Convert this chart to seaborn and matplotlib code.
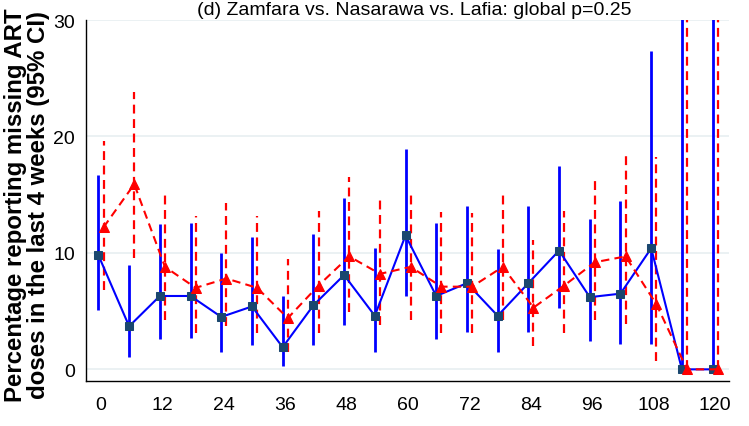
import numpy as np
import pandas as pd
import seaborn as sns
import matplotlib
matplotlib.use('Agg')
import matplotlib.pyplot as plt

# months since start
months = [0, 6, 12, 18, 24, 30, 36, 42, 48, 54, 60, 66, 72, 78, 84, 90, 96, 102, 108, 114, 120]

# blue series (solid, squares)
blue_est = [9.8, 3.7, 6.3, 6.3, 4.5, 5.4, 1.9, 5.5, 8.1, 4.6, 11.5, 6.3, 7.4, 4.6, 7.4, 10.2, 6.2, 6.5, 10.4, 0, 0]
blue_lo = [5.1, 1.1, 2.6, 2.7, 1.5, 2.1, 0.3, 2.1, 3.8, 1.5, 6.3, 2.6, 3.2, 1.5, 3.2, 5.3, 2.4, 2.2, 2.2, 0, 0]
blue_hi = [16.7, 9.0, 12.5, 12.6, 10.0, 11.4, 6.3, 11.6, 14.7, 10.4, 18.9, 12.6, 14.0, 10.3, 14.0, 17.5, 12.9, 14.5, 27.3, 60, 60]

# red series (dashed, triangles)
red_est = [12.2, 15.9, 8.8, 7.0, 7.8, 7.0, 4.4, 7.2, 9.7, 8.2, 8.8, 7.1, 7.1, 8.8, 5.3, 7.2, 9.2, 9.7, 5.6, 0, 0]
red_lo = [6.8, 9.6, 4.2, 3.1, 3.7, 3.1, 1.5, 3.1, 4.9, 3.8, 4.2, 3.1, 3.1, 4.2, 2.0, 3.1, 4.2, 3.9, 0.7, 0, 0]
red_hi = [19.6, 23.8, 15.1, 13.2, 14.3, 13.2, 9.5, 13.6, 16.5, 14.7, 15.1, 13.5, 13.4, 15.1, 11.1, 13.6, 16.5, 18.7, 18.2, 60, 60]

title = '(d) Zamfara vs. Nasarawa vs. Lafia: global p=0.25'
ylab = 'Percentage reporting missing ART\ndoses in the last 4 weeks (95% CI)'

sns.set_style('white')
plt.rcParams['font.family'] = ['Liberation Sans', 'DejaVu Sans']
plt.rcParams['text.color'] = 'black'
plt.rcParams['xtick.color'] = 'black'
plt.rcParams['ytick.color'] = 'black'
plt.rcParams['axes.labelcolor'] = 'black'

m = np.array(months, dtype=float)
blue = pd.DataFrame({'x': m - 0.5, 'est': blue_est, 'lo': blue_lo, 'hi': blue_hi})
red = pd.DataFrame({'x': m + 0.5, 'est': red_est, 'lo': red_lo, 'hi': red_hi})

fig = plt.figure(figsize=(7.49, 4.27), dpi=100)
ax = fig.add_axes([0.1148, 0.1054, 0.8585, 0.8454])

# grid lines
for g in [0, 10, 20, 30]:
    ax.axhline(g, color='#e8eff1', lw=1.2, zorder=0)

# confidence intervals
ax.vlines(blue['x'], blue['lo'], blue['hi'], color='#0000ff', lw=2, zorder=2)
ax.vlines(red['x'], red['lo'], red['hi'], color='#ff0000', lw=1.6,
          linestyles=(0, (4, 2.5)), zorder=3)

# estimates
sns.lineplot(data=blue, x='x', y='est', ax=ax, color='#0000ff', lw=1.5,
             marker='s', markersize=6, markerfacecolor='#1a476f',
             markeredgecolor='#1a476f', zorder=4)
sns.lineplot(data=red, x='x', y='est', ax=ax, color='#ff0000', lw=1.5,
             linestyle=(0, (4, 2.5)), marker='^', markersize=7.5,
             markerfacecolor='#ff0000', markeredgecolor='#ff0000', zorder=5)

ax.set_xlim(-2.93, 122.7)
ax.set_ylim(-1, 30)
ax.set_xticks(range(0, 121, 12))
ax.set_yticks([0, 10, 20, 30])
ax.tick_params(axis='both', direction='out', length=5, width=1, colors='black',
               labelsize=14, pad=3)
ax.tick_params(axis='x', pad=6)
ax.set_xlabel('')
ax.set_ylabel('')

for s in ['top', 'right']:
    ax.spines[s].set_visible(False)
for s in ['left', 'bottom']:
    ax.spines[s].set_color('black')
    ax.spines[s].set_linewidth(1)

fig.text(0.036, 1 - 205 / 427, ylab, rotation=90, ha='center', va='center',
         multialignment='center', fontsize=17.3, fontweight='bold', linespacing=1.0)
fig.text(414 / 749, 1 - 15 / 427, title, ha='center', va='baseline', fontsize=14)

fig.savefig('out.png', dpi=100)
